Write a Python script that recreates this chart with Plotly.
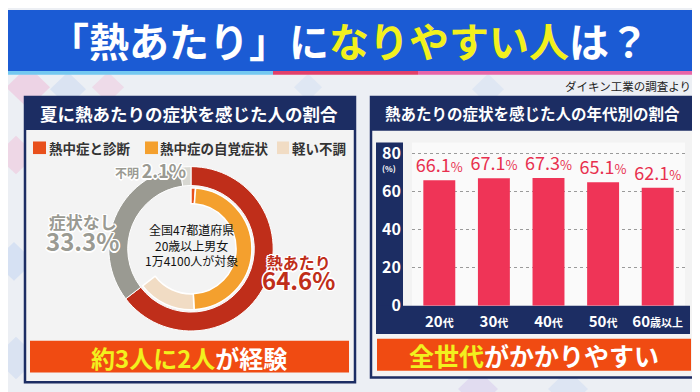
import plotly.graph_objects as go

W, H = 700, 392
FONT = "Noto Sans CJK JP"

# ---------------- data ----------------
outer_labels = ["熱あたり", "症状なし", "不明"]
outer_values = [64.6, 33.3, 2.1]
inner_labels = ["熱中症と診断", "熱中症の自覚症状", "軽い不調"]
inner_values = [1.2, 48.0, 15.4]
age_groups = ["20代", "30代", "40代", "50代", "60歳以上"]
age_tick_text = ["20<span style='font-size:11px'>代</span>",
                 "30<span style='font-size:11px'>代</span>",
                 "40<span style='font-size:11px'>代</span>",
                 "50<span style='font-size:11px'>代</span>",
                 "60<span style='font-size:11px'>歳以上</span>"]
age_values = [66.1, 67.1, 67.3, 65.1, 62.1]
y_ticks = [0, 20, 40, 60, 80]

# ---------------- colours ----------------
NAVY = "#1C2D63"
BLUE = "#1B5BD4"
YELLOW = "#F2F01E"
DARKRED = "#BF2E1A"
GRAY = "#9A9A92"
LIGHTGRAY = "#D8D8D2"
ORANGERED = "#E8501C"
ORANGE = "#F4A02E"
BEIGE = "#F1DCC4"
BAR = "#EF3457"
PANEL = "#F3F3F3"
BANNER2 = "#F04B12"


def px(x):
    return x / W


def py(y):
    return 1 - y / H


fig = go.Figure()

# outer donut
fig.add_trace(go.Pie(
    labels=outer_labels, values=outer_values, sort=False, direction="clockwise",
    rotation=0, hole=0.77, textinfo="none", hoverinfo="label+value",
    marker=dict(colors=[DARKRED, GRAY, LIGHTGRAY], line=dict(color="white", width=1)),
    domain=dict(x=[px(98), px(268)], y=[py(332), py(162)]), showlegend=False,
))

# inner donut (breakdown of 熱あたり)
inner_rest = round(100 - sum(inner_values), 1)
fig.add_trace(go.Pie(
    labels=inner_labels + [""], values=inner_values + [inner_rest], sort=False,
    direction="clockwise", rotation=0, hole=0.74, textinfo="none", hoverinfo="label+value",
    marker=dict(colors=[ORANGERED, ORANGE, BEIGE, "rgba(0,0,0,0)"],
                line=dict(color=["white", "white", "white", "rgba(0,0,0,0)"], width=1.5)),
    domain=dict(x=[px(120), px(246)], y=[py(310), py(184)]), showlegend=False,
))

# bar chart
fig.add_trace(go.Bar(
    x=age_groups, y=age_values, marker=dict(color=BAR, line=dict(width=0)),
    width=0.585, texttemplate="%{y:.1f}<span style='font-size:13px'>%</span>",
    textposition="outside", constraintext="none",
    textfont=dict(family=FONT, size=18, color="#E8304F"),
    cliponaxis=False, showlegend=False,
))

shapes = []


def rect(x0, y0, x1, y1, fill, line=None, lw=0, opacity=1):
    shapes.append(dict(type="rect", xref="paper", yref="paper",
                       x0=px(x0), x1=px(x1), y0=py(y1), y1=py(y0),
                       fillcolor=fill, line=dict(color=line or fill, width=lw),
                       layer="below", opacity=opacity))


def diamond(cx, cy, r, fill, opacity):
    pts = [(cx, cy - r), (cx + r, cy), (cx, cy + r), (cx - r, cy)]
    path = "M " + " L ".join(f"{px(a)},{py(b)}" for a, b in pts) + " Z"
    shapes.append(dict(type="path", xref="paper", yref="paper", path=path,
                       fillcolor=fill, line=dict(width=0), opacity=opacity, layer="below"))


# background decorations
for (cx, cy, r, c, o) in [(20, 80, 22, "#F2A0C8", 0.35), (60, 82, 18, "#B0C8F0", 0.3),
                          (100, 80, 16, "#F2A0C8", 0.25), (8, 150, 20, "#F2A0C8", 0.3),
                          (6, 260, 20, "#B0C8F0", 0.35), (8, 360, 22, "#B0C8F0", 0.3),
                          (470, 392, 20, "#C8B0E8", 0.3), (560, 392, 20, "#B0C8F0", 0.25),
                          (694, 150, 18, "#B0C8F0", 0.35), (694, 300, 20, "#C8B0E8", 0.3),
                          (300, 80, 14, "#B0C8F0", 0.2), (480, 82, 16, "#B0C8F0", 0.2)]:
    diamond(cx, cy, r, c, o)

# top banner
rect(0, 0, 700, 63, BLUE)
rect(0, 63, 265, 67, "#74C8F0")
rect(265, 63, 410, 67, "#E2406A")
rect(410, 63, 700, 67, "#E866A8")

# left panel
rect(17, 90, 347, 385, PANEL, NAVY, 2.5)
rect(17, 90, 347, 124, NAVY)
rect(22, 342, 341, 375, BANNER2)
# legend squares
rect(25, 136, 38, 149, ORANGERED)
rect(137, 136, 150, 149, ORANGE)
rect(269, 136, 281, 149, BEIGE)

# right panel
rect(363, 90, 688, 380, PANEL, NAVY, 2.5)
rect(363, 90, 688, 125, NAVY)
rect(404, 137, 677, 306, "#FAFAFA")
rect(368, 137, 395, 335, NAVY)
rect(368, 306, 682, 335, NAVY)
rect(369, 340, 683, 373, BANNER2)

ann = []


def text(x, y, s, size, color, anchor="center", shadow=None):
    f = dict(family=FONT, size=size, color=color)
    if shadow:
        f["shadow"] = shadow
    ann.append(dict(x=px(x), y=py(y), xref="paper", yref="paper", text=s, showarrow=False,
                    xanchor=anchor, yanchor="middle", font=f, borderpad=0))


OUT = "white 1.5px 0 0, white -1.5px 0 0, white 0 1.5px 0, white 0 -1.5px 0, white 1px 1px 0, white -1px -1px 0, white 1px -1px 0, white -1px 1px 0"

text(341, 31, f"<b>「熱あたり」に<span style='color:{YELLOW}'>なりやすい人</span>は？</b>", 40, "white")
text(620, 79, "ダイキン工業の調査より", 11.5, "#222222")

text(181, 107, "<b>夏に熱あたりの症状を感じた人の割合</b>", 17.5, "white")
text(40, 143, "<b>熱中症と診断</b>", 13.5, "#333333", anchor="left")
text(151, 143, "<b>熱中症の自覚症状</b>", 13.5, "#333333", anchor="left")
text(283, 143, "<b>軽い不調</b>", 13.5, "#333333", anchor="left")

text(142, 166, "<b>不明 <span style='font-size:18px'>2.1%</span></b>", 12, GRAY, shadow=OUT)
text(74, 231, "<b>症状なし<br><span style='font-size:24px'>33.3%</span></b>", 17, GRAY, shadow=OUT)
text(290, 273, "<b>熱あたり<br><span style='font-size:24px'>64.6%</span></b>", 16, DARKRED, shadow=OUT)

text(183, 243, "全国47都道府県<br>20歳以上男女<br>1万4100人が対象", 12, "#111111")

text(181, 359, f"<b><span style='color:{YELLOW}'>約3人に2人</span>が経験</b>", 24, "white")

text(524, 107, "<b>熱あたりの症状を感じた人の年代別の割合</b>", 15.5, "white")
text(381, 164, "<b>(%)</b>", 8, "white")
text(526, 357, f"<b><span style='color:{YELLOW}'>全世代</span>がかかりやすい</b>", 25, "white")

fig.update_layout(
    width=W, height=H, margin=dict(l=0, r=0, t=0, b=0),
    paper_bgcolor="#ECEFF4", plot_bgcolor="rgba(0,0,0,0)",
    shapes=shapes, annotations=ann, bargap=0.4,
    font=dict(family=FONT),
    xaxis=dict(domain=[px(404), px(677)], range=[-0.5, 4.5], tickmode="array",
               tickvals=list(range(len(age_groups))), ticktext=[f"<b>{t}</b>" for t in age_tick_text],
               tickfont=dict(family=FONT, size=15, color="white"), showgrid=False,
               zeroline=False, showline=False, ticks="", ticklabelstandoff=5, fixedrange=True),
    yaxis=dict(domain=[py(306), py(137)], range=[0, 86], tickmode="array", tickvals=y_ticks,
               ticktext=[f"<b>{v}</b>" for v in y_ticks],
               tickfont=dict(family=FONT, size=16, color="white"), showgrid=True,
               gridcolor="#9A9A9A", griddash="dot", gridwidth=1, zeroline=False,
               showline=False, ticks="", ticklabelstandoff=10, fixedrange=True),
)

fig.write_html("out.html")
